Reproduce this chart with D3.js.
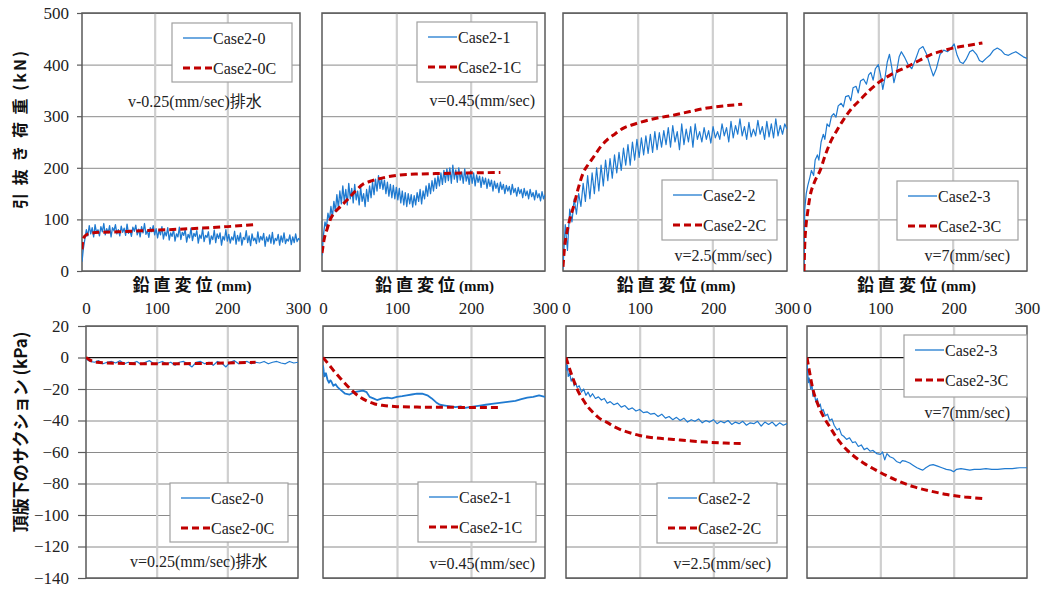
<!DOCTYPE html>
<html><head><meta charset="utf-8">
<script src="https://cdn.jsdelivr.net/npm/d3@7"></script>
<style>
body{margin:0;background:#fff;}
svg{display:block;}
</style></head><body>
<svg id="c" width="1042" height="590"></svg>
<script>
// ---------------- DATA ----------------
const xTickValues = [0, 100, 200, 300];
const loadTicks = [0, 100, 200, 300, 400, 500];
const suctionTicks = [20, 0, -20, -40, -60, -80, -100, -120, -140];
const caseNames = ["Case2-0", "Case2-1", "Case2-2", "Case2-3"];
const calcNames = ["Case2-0C", "Case2-1C", "Case2-2C", "Case2-3C"];
const speedTop = ["v-0.25(mm/sec)排水", "v=0.45(mm/sec)", "v=2.5(mm/sec)", "v=7(mm/sec)"];
const speedBottom = ["v=0.25(mm/sec)排水", "v=0.45(mm/sec)", "v=2.5(mm/sec)", "v=7(mm/sec)"];
const loadTitle = "引 抜 き 荷 重 (kN)";
const suctionTitle = "頂版下のサクション (kPa)";
const dispTitleCJK = "鉛直変位";
const dispTitleUnit = "(mm)";

// sampling grids of the measured records (mm)
const disp2 = d3.range(0, 301, 2);
const disp3 = d3.range(0, 301, 3);
const disp6 = d3.range(0, 301, 6);

// pull-out load (kN), measured
const load0 = [18,45,62,80,68,88,72,84,66,90,74,80,68,86,76,92,70,82,74,88,66,84,78,90,72,80,68,87,75,83,69,91,73,79,67,85,77,89,70,81,66,86,74,92,71,78,65,84,76,88,70,
  82,64,79,70,86,62,76,68,84,60,74,67,81,58,72,66,85,61,75,69,80,56,71,64,83,59,73,67,78,54,70,63,82,57,69,65,76,52,68,61,79,55,72,63,74,50,67,60,80,58,
  71,54,66,60,77,52,69,58,74,50,65,61,78,55,68,49,72,59,64,53,76,56,67,60,73,48,66,57,70,54,75,52,63,59,71,50,68,56,74,53,62,58,70,51,66,55,72,57,63,60];
const load1 = [30,70,95,85,112,98,125,105,135,115,148,122,155,130,165,135,158,128,170,140,160,132,168,138,155,128,162,135,150,125,158,135,165,142,172,148,178,155,185,160,180,158,176,150,172,145,168,142,166,140,162,
  138,160,132,155,128,152,125,150,130,148,124,146,128,152,135,158,130,155,140,165,145,170,150,175,155,180,160,185,165,190,168,195,172,198,175,200,170,205,178,196,172,200,176,192,170,198,174,188,168,194,
  170,190,165,186,172,184,162,182,168,180,160,178,164,176,155,174,160,170,152,172,158,168,150,166,155,164,148,168,152,160,145,162,150,158,142,160,146,155,140,158,144,152,138,156,142,150,136,154,140,148];
const load2 = [5,90,40,120,95,140,110,150,125,170,135,185,140,190,150,200,155,205,165,215,175,218,180,225,190,230,195,238,205,245,205,250,215,255,220,258,225,262,228,265,230,270,235,268,240,272,245,278,240,282,250,270,235,285,245,275,250,280,240,285,255,270,250,278,255,272,248,280,258,270,255,285,262,278,250,290,258,282,265,295,262,280,255,288,260,275,262,292,265,280,255,290,260,285,258,295,262,282,265,285,275];
const load3 = [[0,0],[1,120],[3,150],[5,165],[8,182],[10,195],[13,185],[15,215],[18,225],[20,215],[23,250],[26,265],[28,255],[31,285],[34,280],[37,300],[40,305],[43,298],[46,320],[50,325],[53,318],[56,338],[60,340],[63,330],[66,355],[70,358],[73,345],[76,368],[80,372],[84,362],[87,380],[90,385],[93,370],[96,392],[100,400],[103,380],[106,352],[109,375],[112,405],[115,420],[118,395],[121,365],[125,390],[128,415],[131,425],[135,415],[140,400],[145,392],[150,410],[155,430],[160,435],[165,420],[170,395],[174,378],[178,392],[183,420],[188,428],[193,425],[198,432],[202,440],[206,418],[210,405],[214,402],[218,410],[223,425],[227,428],[232,420],[236,408],[240,405],[245,412],[250,418],[255,428],[260,432],[265,428],[270,420],[275,418],[280,422],[285,425],[290,420],[295,415],[300,412]];

// pull-out load (kN), calculated
const load0C = [[0,42],[1,58],[3,66],[6,70],[12,73],[25,75],[50,76],[100,79],[150,82],[200,86],[240,90]];
const load1C = [[0,35],[3,62],[7,82],[11,99],[18,115],[25,125],[34,138],[45,155],[55,168],[65,174],[75,178],[90,183],[105,186],[130,188],[160,189],[195,190],[240,191]];
const load2C = [[0,8],[2,45],[5,73],[9,100],[14,124],[20,158],[27,190],[34,207],[41,221],[50,240],[59,254],[70,266],[81,277],[92,283],[103,288],[125,296],[148,302],[170,309],[193,316],[215,320],[240,323]];
const load3C = [[0,0],[1,50],[2.6,86],[5,115],[8,144],[14,172],[22,196],[28,222],[35,248],[44,272],[53,293],[63,313],[75,331],[88,350],[102,367],[120,383],[139,396],[155,408],[170,419],[185,426],[200,432],[220,437],[240,442]];

// suction under top slab (kPa), measured
const suc0 = [-1,-2.5,-3,-2,-4,-3,-2.5,-3.5,-2,-4,-3,-3.5,-2.5,-4.5,-3,-2,-4,-3.5,-2.5,-4,-3,-5,-3,-2.5,-4,-6,-3,-2.5,-4,-3,-5,-2.5,-3.5,-6,-3,-2,-4,-3,-2.5,-4,-3,-3.5,-2.5,-4,-3,-2.5,-3.5,-4,-2.5,-3.5,-3];
const suc1 = [[0,-5],[1,-9],[2,-12],[4,-10],[6,-14],[8,-16],[10,-14.5],[11,-15],[14,-18],[17,-17],[20,-19],[25,-21],[30,-23],[36,-23.5],[42,-22],[48,-21.5],[54,-21],[59,-22],[63,-25],[68,-26],[73,-27],[80,-26],[87,-25.5],[93,-26],[100,-25],[107,-24.5],[113,-24],[120,-23.5],[127,-23],[134,-23],[141,-24],[147,-26],[153,-28.5],[158,-30],[165,-30.5],[172,-31],[179,-31.5],[186,-31],[192,-32],[198,-31.5],[205,-31],[212,-30.5],[220,-30],[228,-29.5],[236,-29],[244,-28.5],[252,-28],[260,-27.5],[268,-26.5],[276,-25.5],[284,-25],[292,-24],[300,-25]];
const suc2 = [[0,-1],[1,-8],[2,-5],[3,-12],[5,-10],[7,-15],[9,-13],[11,-18],[13,-16],[15,-19],[18,-18],[21,-22],[24,-20],[27,-24],[30,-22],[33,-25],[36,-23],[40,-26],[44,-25],[48,-27],[52,-26],[56,-29],[60,-28],[65,-30],[70,-29],[75,-31.5],[80,-30.5],[85,-33],[90,-32],[95,-34],[100,-33],[105,-35],[110,-34.5],[115,-36],[120,-35.5],[125,-37.5],[130,-36],[135,-38.5],[140,-37.5],[145,-39.5],[150,-38],[155,-40],[160,-38.5],[165,-41],[170,-39.5],[175,-40.5],[180,-39],[185,-41.5],[190,-40],[195,-41],[200,-39.5],[205,-42],[210,-40.5],[215,-41.5],[220,-40],[225,-42.5],[230,-41],[235,-42],[240,-40.5],[245,-43],[250,-41.5],[255,-42],[260,-40.5],[265,-43.5],[270,-41],[275,-42.5],[280,-41],[285,-43.5],[290,-41.5],[295,-43],[300,-42]];
const suc3 = [[0,-2],[1,-10],[2,-16],[3,-13],[5,-20],[7,-18],[8,-24.5],[10,-23],[12,-28],[14,-26],[16,-31],[18,-29.5],[20,-34],[22,-33],[25,-37],[28,-36],[31,-40],[34,-39],[37,-43],[41,-46],[44,-45],[47,-49],[50,-50],[54,-52],[58,-51],[62,-54],[66,-53.5],[70,-56.5],[74,-55.5],[78,-58.5],[82,-57.5],[86,-59.5],[90,-59],[95,-61],[100,-61.5],[103,-60],[106,-65],[109,-61],[113,-63],[118,-64],[122,-66],[127,-67],[130,-65.5],[135,-66],[140,-67],[145,-68.5],[150,-70],[155,-71],[158,-71.5],[162,-70],[167,-68.5],[172,-68],[178,-69],[184,-70],[190,-71],[196,-71.5],[200,-72.5],[204,-71],[210,-70.5],[216,-71],[222,-71.5],[228,-71],[236,-71],[244,-70.5],[252,-71],[260,-71],[270,-70.5],[280,-70.5],[290,-70],[300,-70]];

// suction (kPa), calculated
const suc0C = [[0,0],[5,-1.5],[15,-3],[30,-3.5],[100,-4],[200,-3.5],[240,-3]];
const suc1C = [[0,0],[8,-4.5],[15,-8.7],[25,-14],[37,-20],[48,-24.5],[59,-27.5],[70,-29.5],[82,-30.5],[100,-31.2],[127,-31.5],[160,-31.6],[195,-31.7],[240,-31.7]];
const suc2C = [[0,0],[4,-6],[10,-14],[16,-21],[23,-26.7],[30,-31.5],[37,-35],[45,-38.5],[55,-41],[66,-44],[78,-46.5],[90,-48.3],[100,-49.5],[120,-51],[146,-52],[170,-53],[191,-53.7],[215,-54.3],[240,-54.7]];
const suc3C = [[0,0],[3,-8],[8,-20],[15,-30],[23,-38],[31,-44],[42,-52],[54,-58.5],[65,-63],[77,-67],[90,-70.5],[100,-73],[120,-77.5],[145,-82],[170,-85],[191,-87],[215,-88.5],[239,-89.5]];

// ---------------- LAYOUT ----------------
const zip = (xs, ys) => ys.map((v, i) => [xs[i], v]);
const loadMeasured = [zip(disp2, load0), zip(disp2, load1), zip(disp3, load2), load3];
const loadCalc = [load0C, load1C, load2C, load3C];
const sucMeasured = [zip(disp6, suc0), suc1, suc2, suc3];
const sucCalc = [suc0C, suc1C, suc2C, suc3C];

const topCols = [[82, 300], [322, 545], [563, 787], [804, 1027]];
const botCols = [[86, 298], [323, 545], [566, 787], [807, 1027]];
const topY = [271, 13];
const botY = [578, 326];

const topLegend = [
  {x: 172, y: 23, w: 120, h: 59, ann: {x: 128, y: 101, anchor: "start"}},
  {x: 417, y: 22, w: 120, h: 60, ann: {x: 535, y: 100, anchor: "end"}},
  {x: 662, y: 180, w: 115, h: 60, ann: {x: 772, y: 255, anchor: "end"}},
  {x: 897, y: 181, w: 121, h: 59, ann: {x: 1010, y: 255, anchor: "end"}}
];
const botLegend = [
  {x: 170, y: 483, w: 118, h: 59, ann: {x: 130, y: 561, anchor: "start"}},
  {x: 418, y: 482, w: 118, h: 60, ann: {x: 535, y: 563, anchor: "end"}},
  {x: 657, y: 483, w: 120, h: 60, ann: {x: 771, y: 563, anchor: "end"}},
  {x: 904, y: 335, w: 123, h: 62, ann: {x: 1010, y: 412, anchor: "end"}}
];

const BLUE = "#1f7ad0";
const RED = "#c00000";
const SERIF = "'Liberation Serif','Times New Roman',serif";
const CJK = "'Noto Sans CJK JP','Noto Sans',sans-serif";
const MIXED = "'Liberation Serif','Times New Roman','Noto Sans CJK JP',serif";

const svg = d3.select("#c");
svg.append("rect").attr("width", 1042).attr("height", 590).attr("fill", "#fff");
const defs = svg.append("defs");

function drawPanel(idx, cols, yRange, yDomain, yTicks, measured, calc, legend, ann, isTop, blueW) {
  const [l, r] = cols;
  const x = d3.scaleLinear().domain([0, 300]).range([l, r]);
  const y = d3.scaleLinear().domain(yDomain).range(yRange);
  const g = svg.append("g");
  const top = yRange[1], bot = yRange[0];
  const clipId = "clip" + (isTop ? "t" : "b") + idx;
  defs.append("clipPath").attr("id", clipId).append("rect")
    .attr("x", l).attr("y", top).attr("width", r - l).attr("height", bot - top);

  g.append("g").attr("transform", `translate(${l},0)`)
    .call(d3.axisLeft(y).tickValues(yTicks).tickSize(-(r - l)).tickFormat(""))
    .call(s => s.select(".domain").remove())
    .call(s => s.selectAll("line").attr("stroke", "#8a8a8a").attr("stroke-width", 1));
  g.append("g").attr("transform", `translate(0,${bot})`)
    .call(d3.axisBottom(x).tickValues([100, 200]).tickSize(-(bot - top)).tickFormat(""))
    .call(s => s.select(".domain").remove())
    .call(s => s.selectAll("line").attr("stroke", "#cfcfcf").attr("stroke-width", 2.2));
  if (!isTop) {
    g.append("line").attr("x1", l).attr("x2", r).attr("y1", y(0)).attr("y2", y(0))
      .attr("stroke", "#111").attr("stroke-width", 1.2);
  }
  g.append("rect").attr("x", l).attr("y", top).attr("width", r - l).attr("height", bot - top)
    .attr("fill", "none").attr("stroke", "#5a5a5a").attr("stroke-width", 1.5);

  const line = d3.line().x(d => x(d[0])).y(d => y(d[1]));
  const smooth = d3.line().x(d => x(d[0])).y(d => y(d[1])).curve(d3.curveMonotoneX);
  const plot = g.append("g").attr("clip-path", `url(#${clipId})`);
  plot.append("path").datum(measured).attr("d", line)
    .attr("fill", "none").attr("stroke", BLUE).attr("stroke-width", blueW).attr("stroke-linejoin", "round");
  plot.append("path").datum(calc).attr("d", smooth)
    .attr("fill", "none").attr("stroke", RED).attr("stroke-width", 3).attr("stroke-dasharray", "7,4");

  const lg = g.append("g");
  lg.append("rect").attr("x", legend.x).attr("y", legend.y).attr("width", legend.w).attr("height", legend.h)
    .attr("fill", "#fff").attr("stroke", "#a0a0a0").attr("stroke-width", 1.2);
  const rows = [
    {name: caseNames[idx], color: BLUE, w: 1.3, dash: null},
    {name: calcNames[idx], color: RED, w: 3, dash: "7,4"}
  ];
  rows.forEach((row, i) => {
    const cy = legend.y + 15 + i * 30;
    lg.append("line").attr("x1", legend.x + 11).attr("x2", legend.x + 40)
      .attr("y1", cy).attr("y2", cy).attr("stroke", row.color).attr("stroke-width", row.w)
      .attr("stroke-dasharray", row.dash);
    lg.append("text").attr("x", legend.x + 41).attr("y", cy).attr("dy", "0.35em")
      .style("font-family", SERIF).attr("font-size", 16).attr("fill", "#222").text(row.name);
  });
  g.append("text").attr("x", legend.ann.x).attr("y", legend.ann.y).attr("dy", "0.35em")
    .attr("text-anchor", legend.ann.anchor).style("font-family", MIXED).attr("font-size", 16)
    .attr("fill", "#222").text(ann);

  return {x, y, g};
}

topCols.forEach((c, i) => {
  const p = drawPanel(i, c, topY, [0, 500], loadTicks, loadMeasured[i], loadCalc[i], topLegend[i], speedTop[i], true, i < 2 ? 1.3 : 1.2);
  const t = svg.append("text").attr("x", (c[0] + c[1]) / 2 + 1).attr("y", 285).attr("dy", "0.35em")
    .attr("text-anchor", "middle").attr("fill", "#111");
  t.append("tspan").style("font-family", CJK).attr("font-weight", "bold").attr("font-size", 17)
    .attr("letter-spacing", "4px").text(dispTitleCJK);
  t.append("tspan").style("font-family", SERIF).attr("font-weight", "bold").attr("font-size", 15)
    .text(dispTitleUnit);
  if (i === 0) {
    svg.append("g").attr("transform", `translate(${c[0]},0)`)
      .call(d3.axisLeft(p.y).tickValues(loadTicks).tickSize(5).tickPadding(8))
      .call(s => s.select(".domain").remove())
      .call(s => s.selectAll("line").attr("stroke", "#5a5a5a").attr("stroke-width", 1.2))
      .call(s => s.selectAll("text").style("font-family", SERIF).attr("font-size", 17).attr("fill", "#222"));
  }
});

botCols.forEach((c, i) => {
  const p = drawPanel(i, c, botY, [-140, 20], suctionTicks, sucMeasured[i], sucCalc[i], botLegend[i], speedBottom[i], false, i === 1 ? 1.8 : 1.2);
  svg.append("g").attr("transform", `translate(0,300)`)
    .call(d3.axisBottom(p.x).tickValues(xTickValues).tickSize(0).tickPadding(2))
    .call(s => s.select(".domain").remove())
    .call(s => s.selectAll("text").style("font-family", SERIF).attr("font-size", 17).attr("fill", "#222"));
  if (i === 0) {
    svg.append("g").attr("transform", `translate(${c[0]},0)`)
      .call(d3.axisLeft(p.y).tickValues(suctionTicks).tickSize(8).tickPadding(9))
      .call(s => s.select(".domain").remove())
      .call(s => s.selectAll("line").attr("stroke", "#5a5a5a").attr("stroke-width", 1.2))
      .call(s => s.selectAll("text").style("font-family", SERIF).attr("font-size", 17).attr("fill", "#222"));
  }
});

svg.append("text").attr("transform", "translate(20,129) rotate(-90)").attr("dy", "0.35em")
  .attr("text-anchor", "middle").style("font-family", CJK).attr("font-weight", "bold")
  .attr("font-size", 16).attr("letter-spacing", "2px").attr("fill", "#111").text(loadTitle);
svg.append("text").attr("transform", "translate(21,432) rotate(-90)").attr("dy", "0.35em")
  .attr("text-anchor", "middle").style("font-family", CJK).attr("font-weight", "bold")
  .attr("font-size", 17).attr("fill", "#111").text(suctionTitle);
</script>
</body></html>
